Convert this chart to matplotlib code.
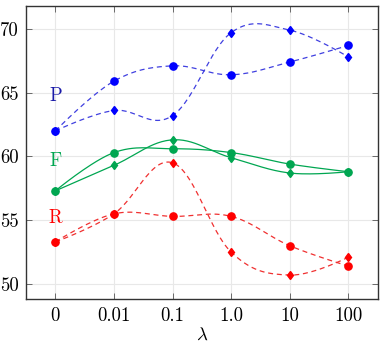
import numpy as np
import matplotlib.pyplot as plt

plt.rcParams['mathtext.fontset'] = 'cm'
plt.rcParams['font.family'] = 'cmr10'
plt.rcParams['axes.formatter.use_mathtext'] = True

lambdas = ['0', '0.01', '0.1', '1.0', '10', '100']

p_circle = [62.0, 65.9, 67.1, 66.4, 67.4, 68.7]
p_diamond = [62.0, 63.6, 63.2, 69.7, 69.9, 67.8]
f_circle = [57.3, 60.3, 60.6, 60.3, 59.4, 58.8]
f_diamond = [57.3, 59.3, 61.3, 59.9, 58.7, 58.8]
r_circle = [53.3, 55.5, 55.3, 55.3, 53.0, 51.4]
r_diamond = [53.3, 55.5, 59.5, 52.5, 50.7, 52.1]

blue = '#0000ff'
green = '#00a651'
red = '#ff0000'


def smooth(x, y, k=0.55 / 3, n=30):
    # tikz-like smooth curve through the points (cubic bezier pieces)
    x = np.asarray(x, float)
    y = np.asarray(y, float)
    pts = np.column_stack([x, y])
    m = len(pts)
    out = []
    for i in range(m - 1):
        p0, p1 = pts[i], pts[i + 1]
        t0 = pts[i + 1] - pts[i - 1] if i > 0 else np.zeros(2)
        t1 = pts[i + 2] - pts[i] if i + 2 < m else np.zeros(2)
        c0 = p0 + k * t0
        c1 = p1 - k * t1
        t = np.linspace(0, 1, n)[:, None]
        seg = ((1 - t) ** 3) * p0 + 3 * ((1 - t) ** 2) * t * c0 + 3 * (1 - t) * t ** 2 * c1 + t ** 3 * p1
        out.append(seg if i == 0 else seg[1:])
    out = np.vstack(out)
    return out[:, 0], out[:, 1]


fig = plt.figure(figsize=(3.83, 3.46), dpi=100)
ax = fig.add_axes([0.068, 0.135, 0.918, 0.848])

xs = np.arange(len(lambdas))
series = [
    (p_circle, blue, '#4040e0', '--', 'o', 5.2),
    (p_diamond, blue, '#4040e0', '--', 'd', 4.5),
    (f_circle, green, green, '-', 'o', 5.2),
    (f_diamond, green, green, '-', 'd', 4.5),
    (r_circle, red, '#f03030', '--', 'o', 5.2),
    (r_diamond, red, '#f03030', '--', 'd', 4.5),
]
for vals, mc, lc, ls, mk, ms in series:
    sx, sy = smooth(xs, vals)
    line, = ax.plot(sx, sy, color=lc, lw=0.9, ls=ls, zorder=2)
    if ls == '--':
        line.set_dashes((4, 3))
    ax.plot(xs, vals, ls='none', marker=mk, ms=ms, color=mc, mec=mc, zorder=3)

ax.text(0, 64.7, 'P', color='#1a1aa8', fontsize=13.5, ha='center', va='center')
ax.text(0, 59.6, 'F', color=green, fontsize=13.5, ha='center', va='center')
ax.text(0, 55.2, 'R', color=red, fontsize=13.5, ha='center', va='center')

ax.set_xlim(-0.5, 5.5)
ax.set_ylim(48.8, 71.8)
ax.set_xticks(xs)
ax.set_xticklabels(lambdas)
ax.set_yticks([50, 55, 60, 65, 70])
ax.set_yticklabels(['50', '55', '60', '65', '70'])
ax.tick_params(direction='in', top=True, right=True, labelsize=13.5, length=4,
               width=0.6, color='#555555', pad=5.5)
ax.grid(True, color='#e8e8e8', lw=0.8, zorder=0)
ax.set_axisbelow(True)
for s in ax.spines.values():
    s.set_color('#333333')
    s.set_linewidth(1.0)
ax.set_xlabel(r'$\lambda$', fontsize=13.5, labelpad=1)

fig.savefig('out.png', dpi=100)
